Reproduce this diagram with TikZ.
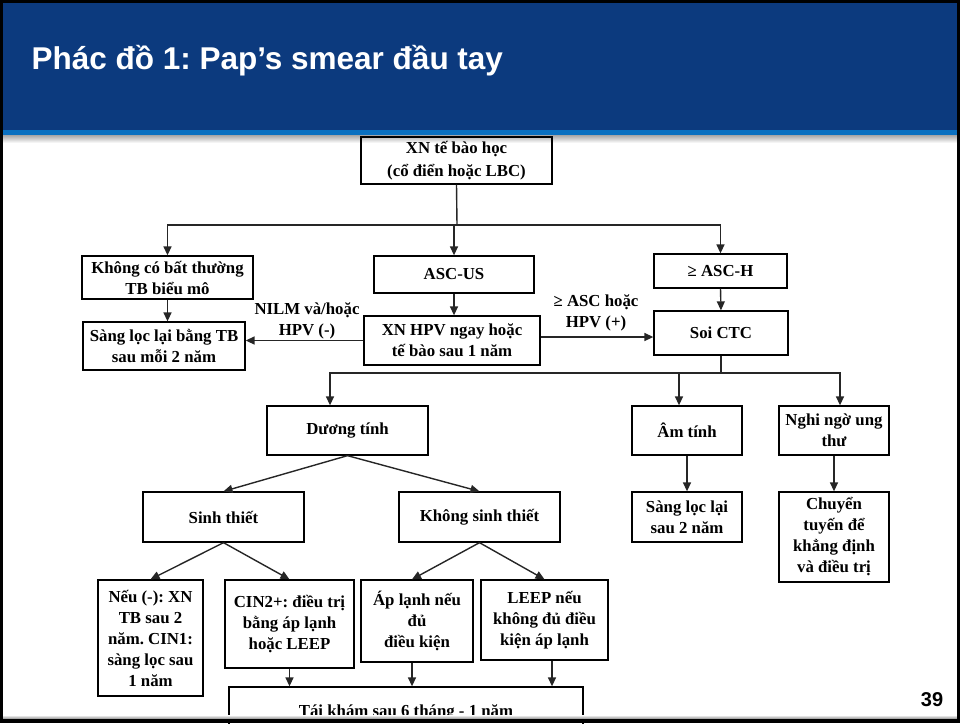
\documentclass[tikz,border=0pt]{standalone}
\usepackage{fontspec}
\setmainfont{Liberation Serif}
\newfontfamily\headfont{Liberation Sans}
\usetikzlibrary{arrows.meta}
\definecolor{header-navy}{HTML}{0C3A7E}
\definecolor{header-blue}{HTML}{0A70C0}
\definecolor{line-grey}{HTML}{262626}
\frenchspacing

\begin{document}
\begin{tikzpicture}[x=1pt, y=-1pt,
    flowbox/.style={draw, line width=1.3pt, inner sep=0pt, align=center,
      font=\bfseries\fontsize{16.8}{21}\selectfont},
    edgelabel/.style={align=center, font=\bfseries\fontsize{16.8}{21}\selectfont},
    link/.style={line-grey, line width=1.4pt},
    flowarrow/.style={link, -{Triangle[length=9pt, width=8pt]}}]
  \useasboundingbox (0,0) rectangle (960,723);
  % slide header
  \fill[header-navy] (0,0) rectangle (960,130);
  \fill[header-blue] (0,130) rectangle (960,135);
  \shade[top color=black!35, bottom color=white] (0,135) rectangle (960,143);
  \node[anchor=west, text=white, font=\headfont\bfseries\fontsize{31.5}{34}\selectfont]
    (title) at (28,61) {Phác đồ 1: Pap’s smear đầu tay};

  % first level
  \node[flowbox, minimum width=191pt, minimum height=47pt,
        font=\bfseries\fontsize{16.8}{23}\selectfont] (cyto) at (456.5,160.5)
        {XN tế bào học\\(cổ điển hoặc LBC)};
  \node[flowbox, minimum width=171pt, minimum height=43pt] (normal) at (167.5,277.5)
        {Không có bất thường\\TB biểu mô};
  \node[flowbox, minimum width=160pt, minimum height=37pt] (ascus) at (454,274.5) {ASC-US};
  \node[flowbox, minimum width=133pt, minimum height=34pt] (asch) at (720.5,271) {≥ ASC-H};
  \node[flowbox, minimum width=162pt, minimum height=48pt] (rescreen) at (164,346)
        {Sàng lọc lại bằng TB\\sau mỗi 2 năm};
  \node[flowbox, minimum width=176pt, minimum height=49pt] (hpvtest) at (452,340.5)
        {XN HPV ngay hoặc\\tế bào sau 1 năm};
  \node[flowbox, minimum width=134pt, minimum height=44pt] (colpo) at (721,333) {Soi CTC};

  % colposcopy outcomes
  \node[flowbox, minimum width=161pt, minimum height=49pt] (positive) at (347.5,430.5) {Dương tính};
  \node[flowbox, minimum width=110pt, minimum height=49pt] (negative) at (687,430.5) {Âm tính};
  \node[flowbox, minimum width=110pt, minimum height=49pt] (cancer) at (834,430.5)
        {Nghi ngờ ung\\thư};
  \node[flowbox, minimum width=161pt, minimum height=50pt] (biopsy) at (223.5,517) {Sinh thiết};
  \node[flowbox, minimum width=161pt, minimum height=50pt] (nobiopsy) at (479.5,517) {Không sinh thiết};
  \node[flowbox, minimum width=110pt, minimum height=50pt] (rescreentwo) at (687,517)
        {Sàng lọc lại\\sau 2 năm};
  \node[flowbox, minimum width=110pt, minimum height=90pt] (refer) at (834,537)
        {Chuyển\\tuyến để\\khẳng định\\và điều trị};

  % treatment
  \node[flowbox, minimum width=105pt, minimum height=116pt] (cinone) at (150.5,638)
        {Nếu (-): XN\\TB sau 2\\năm. CIN1:\\sàng lọc sau\\1 năm};
  \node[flowbox, minimum width=129pt, minimum height=88pt] (cintwo) at (289.5,624)
        {CIN2+: điều trị\\bằng áp lạnh\\hoặc LEEP};
  \node[flowbox, minimum width=112pt, minimum height=82pt] (cryo) at (417,621)
        {Áp lạnh nếu\\đủ\\điều kiện};
  \node[flowbox, minimum width=127pt, minimum height=80pt] (leep) at (544.5,620)
        {LEEP nếu\\không đủ điều\\kiện áp lạnh};
  \node[flowbox, minimum width=354pt, minimum height=50pt] (followup) at (406,712)
        {Tái khám sau 6 tháng - 1 năm};

  % connectors
  \coordinate (cytosplit) at (457,225);
  \draw[link] (cyto.south) -- (cytosplit);
  \draw[flowarrow] (cytosplit) -| (normal.north);
  \draw[flowarrow] (cytosplit) -| (ascus.north);
  \draw[flowarrow] (cytosplit) -| (asch.north);
  \draw[flowarrow] (normal.south) -- (normal.south |- rescreen.north);
  \draw[flowarrow] (ascus.south) -- (ascus.south |- hpvtest.north);
  \draw[flowarrow] (asch.south) -- (colpo.north);
  \draw[flowarrow] (hpvtest.west) -- (hpvtest.west -| rescreen.east);
  \coordinate (hpvright) at ([yshift=3.5pt]hpvtest.east);
  \draw[flowarrow] (hpvright) -- (hpvright -| colpo.west);
  \node[edgelabel] (nilm) at (307,321) {NILM và/hoặc\\HPV (-)};
  \node[edgelabel] (ascplus) at (596,313) {≥ ASC hoặc\\HPV (+)};

  \coordinate (colposplit) at (721,373);
  \draw[link] (colpo.south) -- (colposplit);
  \draw[flowarrow] (colposplit) -| ([xshift=-17.5pt]positive.north);
  \draw[flowarrow] (colposplit) -| ([xshift=-8pt]negative.north);
  \draw[flowarrow] (colposplit) -| ([xshift=6pt]cancer.north);
  \draw[flowarrow] (positive.south) -- (biopsy.north);
  \draw[flowarrow] (positive.south) -- (nobiopsy.north);
  \draw[flowarrow] (negative.south) -- (rescreentwo.north);
  \draw[flowarrow] (cancer.south) -- (refer.north);
  \draw[flowarrow] (biopsy.south) -- (cinone.north);
  \draw[flowarrow] (biopsy.south) -- (cintwo.north);
  \draw[flowarrow] (nobiopsy.south) -- ([xshift=-5pt]cryo.north);
  \draw[flowarrow] (nobiopsy.south) -- (leep.north);
  \draw[flowarrow] (cintwo.south) -- (cintwo.south |- followup.north);
  \coordinate (cryobottom) at ([xshift=-5pt]cryo.south);
  \draw[flowarrow] (cryobottom) -- (cryobottom |- followup.north);
  \coordinate (leepbottom) at ([xshift=7.5pt]leep.south);
  \draw[flowarrow] (leepbottom) -- (leepbottom |- followup.north);

  % page number and frame
  \node[font=\headfont\bfseries\fontsize{20}{22}\selectfont] (pagenum) at (932,700) {39};
  \shade[top color=white, bottom color=black!45] (3,715) rectangle (957,719);
  \fill[black] (0,0) rectangle (960,3);
  \fill[black] (0,0) rectangle (3,723);
  \fill[black] (957,0) rectangle (960,723);
  \fill[black] (0,719) rectangle (960,723);
\end{tikzpicture}
\end{document}
